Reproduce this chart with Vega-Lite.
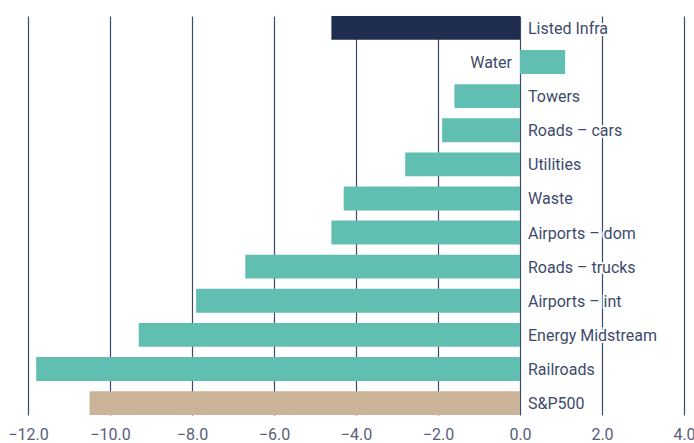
{
  "$schema": "https://vega.github.io/schema/vega-lite/v6.json",
  "autosize": {"type": "none"},
  "padding": {"left": 28, "top": 16, "right": 10, "bottom": 28},
  "width": 656,
  "height": 399,
  "background": "white",
  "config": {"view": {"stroke": null}},
  "data": {"values": [
    {"name": "Listed Infra", "value": -4.6, "group": "infra"},
    {"name": "Water", "value": 1.1, "group": "sector"},
    {"name": "Towers", "value": -1.6, "group": "sector"},
    {"name": "Roads – cars", "value": -1.9, "group": "sector"},
    {"name": "Utilities", "value": -2.8, "group": "sector"},
    {"name": "Waste", "value": -4.3, "group": "sector"},
    {"name": "Airports – dom", "value": -4.6, "group": "sector"},
    {"name": "Roads – trucks", "value": -6.7, "group": "sector"},
    {"name": "Airports – int", "value": -7.9, "group": "sector"},
    {"name": "Energy Midstream", "value": -9.3, "group": "sector"},
    {"name": "Railroads", "value": -11.8, "group": "sector"},
    {"name": "S&P500", "value": -10.5, "group": "market"}
  ]},
  "encoding": {
    "y": {"field": "name", "type": "nominal", "sort": null, "axis": null,
          "scale": {"paddingInner": 0.3, "paddingOuter": 0}}
  },
  "layer": [
    {
      "mark": {"type": "bar"},
      "encoding": {
        "x": {"field": "value", "type": "quantitative",
              "scale": {"domain": [-12, 4], "nice": false, "zero": false},
              "axis": {"values": [-12, -10, -8, -6, -4, -2, 0, 2, 4], "format": ".1f", "title": null,
                       "domain": false, "ticks": false, "grid": true, "gridColor": "#3e4a6c", "gridWidth": 1.2, "gridOpacity": 1,
                       "labelFlush": false, "labelOverlap": false, "labelBound": false,
                       "labelFont": "Roboto", "labelFontSize": 16, "labelColor": "#56607c", "labelPadding": 11}},
        "color": {"field": "group", "type": "nominal", "legend": null,
                  "scale": {"domain": ["infra", "sector", "market"], "range": ["#1f2d4e", "#61bfb2", "#cbb398"]}}
      }
    },
    {
      "mark": {"type": "rule", "color": "#3e4a6c", "strokeWidth": 1.2},
      "encoding": {"x": {"datum": 0}}
    },
    {
      "transform": [{"filter": "datum.value < 0"}],
      "mark": {"type": "text", "align": "left", "dx": 8, "dy": 1, "font": "Roboto", "fontSize": 16, "color": "white", "stroke": "white", "strokeWidth": 4},
      "encoding": {"x": {"datum": 0}, "text": {"field": "name"}}
    },
    {
      "transform": [{"filter": "datum.value < 0"}],
      "mark": {"type": "text", "align": "left", "dx": 8, "dy": 1, "font": "Roboto", "fontSize": 16, "color": "#3d4a6b"},
      "encoding": {"x": {"datum": 0}, "text": {"field": "name"}}
    },
    {
      "transform": [{"filter": "datum.value >= 0"}],
      "mark": {"type": "text", "align": "right", "dx": -8, "dy": 1, "font": "Roboto", "fontSize": 16, "color": "#3d4a6b"},
      "encoding": {"x": {"datum": 0}, "text": {"field": "name"}}
    }
  ]
}
